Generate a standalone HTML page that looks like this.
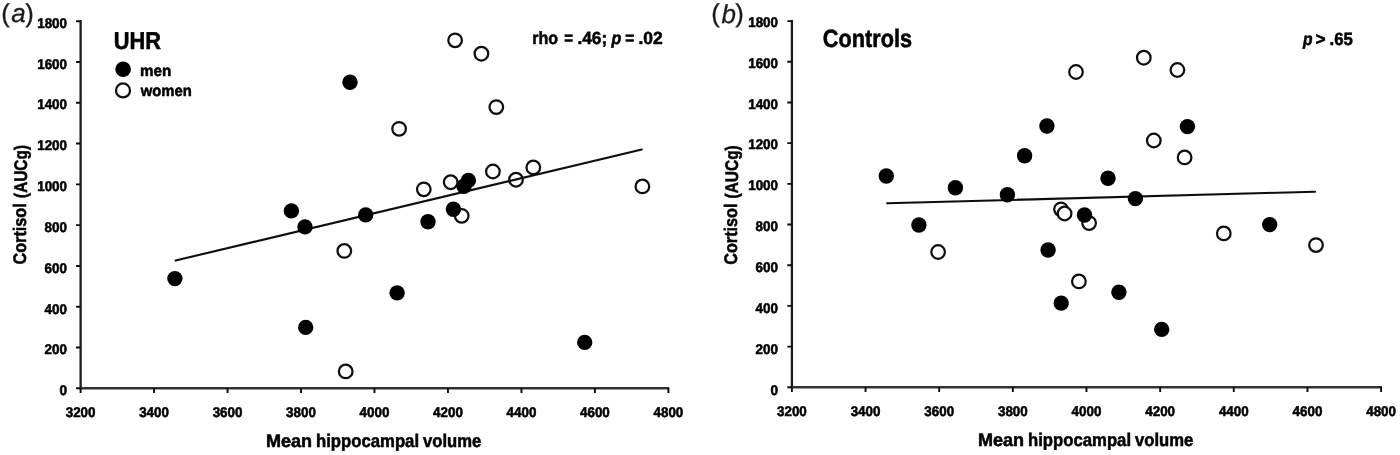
<!DOCTYPE html>
<html lang="en">
<head>
<meta charset="utf-8">
<title>Cortisol (AUCg) and mean hippocampal volume</title>
<style>
html,body{margin:0;padding:0;background:#fff;}
body{width:1400px;height:455px;overflow:hidden;}
svg{display:block;}
text{font-family:"Liberation Sans",sans-serif;fill:#000;text-rendering:geometricPrecision;}
.tk text{font-weight:bold;font-size:14px;}
.b text,text.b{stroke:#000;stroke-width:0.55;}
.ttl{font-weight:bold;}
.ax{font-weight:bold;}
.lg{font-weight:bold;}
.st{font-weight:bold;}
.pl{font-size:26px;fill:#1c1c1c;stroke:#1c1c1c;stroke-width:0.3;}
.pp{font-size:25.8px;}
.m{fill:#000;}
.w{fill:#fff;stroke:#111;stroke-width:2.25;}
.ln{stroke:#0c0c0c;stroke-width:2.1;fill:none;stroke-linecap:round;}
</style>
</head>
<body>
<svg width="1400" height="455" viewBox="0 0 1400 455">
<defs><filter id="soft" x="0" y="0" width="1400" height="455" filterUnits="userSpaceOnUse"><feGaussianBlur stdDeviation="0.45"/></filter></defs>
<rect width="1400" height="455" fill="#fff"/>

<!-- panel a -->
<text class="pl"><tspan class="pp" x="1.3" y="22.4">(</tspan><tspan x="11.2" y="22.3" font-style="italic">a</tspan><tspan class="pp" x="25.3" y="22.4">)</tspan></text>
<g filter="url(#soft)">
<path d="M80.60 20.05V389.30" fill="none" stroke="#1c1c1c" stroke-width="2.3"/>
<path d="M79.60 388.30H669.30" fill="none" stroke="#303030" stroke-width="2.5"/>
<path d="M76.00 388.30H80.60M76.00 347.51H80.60M76.00 306.72H80.60M76.00 265.93H80.60M76.00 225.14H80.60M76.00 184.36H80.60M76.00 143.57H80.60M76.00 102.78H80.60M76.00 61.99H80.60M76.00 21.20H80.60M80.60 388.30V392.90M154.07 388.30V392.90M227.55 388.30V392.90M301.02 388.30V392.90M374.50 388.30V392.90M447.98 388.30V392.90M521.45 388.30V392.90M594.92 388.30V392.90M668.40 388.30V392.90" fill="none" stroke="#0c0c0c" stroke-width="1.9"/>
<g class="tk b" text-anchor="end">
<text x="67.0" y="395.20" textLength="7.6" lengthAdjust="spacingAndGlyphs">0</text>
<text x="67.0" y="354.37" textLength="22.4" lengthAdjust="spacingAndGlyphs">200</text>
<text x="67.0" y="313.53" textLength="22.4" lengthAdjust="spacingAndGlyphs">400</text>
<text x="67.0" y="272.70" textLength="22.4" lengthAdjust="spacingAndGlyphs">600</text>
<text x="67.0" y="231.87" textLength="22.4" lengthAdjust="spacingAndGlyphs">800</text>
<text x="67.0" y="191.03" textLength="29.8" lengthAdjust="spacingAndGlyphs">1000</text>
<text x="67.0" y="150.20" textLength="29.8" lengthAdjust="spacingAndGlyphs">1200</text>
<text x="67.0" y="109.37" textLength="29.8" lengthAdjust="spacingAndGlyphs">1400</text>
<text x="67.0" y="68.53" textLength="29.8" lengthAdjust="spacingAndGlyphs">1600</text>
<text x="67.0" y="27.70" textLength="29.8" lengthAdjust="spacingAndGlyphs">1800</text>
</g>
<g class="tk b" text-anchor="middle">
<text x="80.60" y="417.1" textLength="29.8" lengthAdjust="spacingAndGlyphs">3200</text>
<text x="154.07" y="417.1" textLength="29.8" lengthAdjust="spacingAndGlyphs">3400</text>
<text x="227.55" y="417.1" textLength="29.8" lengthAdjust="spacingAndGlyphs">3600</text>
<text x="301.02" y="417.1" textLength="29.8" lengthAdjust="spacingAndGlyphs">3800</text>
<text x="374.50" y="417.1" textLength="29.8" lengthAdjust="spacingAndGlyphs">4000</text>
<text x="447.98" y="417.1" textLength="29.8" lengthAdjust="spacingAndGlyphs">4200</text>
<text x="521.45" y="417.1" textLength="29.8" lengthAdjust="spacingAndGlyphs">4400</text>
<text x="594.92" y="417.1" textLength="29.8" lengthAdjust="spacingAndGlyphs">4600</text>
<text x="668.40" y="417.1" textLength="29.8" lengthAdjust="spacingAndGlyphs">4800</text>
</g>
<text class="ax b" font-size="18.2" transform="rotate(-90)"><tspan x="-264.5" y="26.2" textLength="61.28" lengthAdjust="spacingAndGlyphs">Cortisol</tspan> <tspan x="-198.0" y="27.0" textLength="53.02" lengthAdjust="spacingAndGlyphs">(AUCg)</tspan></text>
<text class="ax b" font-size="18.2" y="446.95"><tspan x="266.0" textLength="46.07" lengthAdjust="spacingAndGlyphs">Mean</tspan> <tspan x="316.0" textLength="103.04" lengthAdjust="spacingAndGlyphs">hippocampal</tspan> <tspan x="423.0" textLength="58.25" lengthAdjust="spacingAndGlyphs">volume</tspan></text>
<text class="ttl b" font-size="24.2" x="113.75" y="48.5" textLength="47.29" lengthAdjust="spacingAndGlyphs">UHR</text>
<circle class="m" cx="123.1" cy="69.2" r="7.8"/>
<circle class="w" cx="123.0" cy="90.4" r="7.0"/>
<text class="lg b" font-size="15.6" x="140.0" y="75.6" textLength="31.3" lengthAdjust="spacingAndGlyphs">men</text>
<text class="lg b" font-size="15.6" x="140.75" y="95.7" textLength="51.0" lengthAdjust="spacingAndGlyphs">women</text>
<text class="st b" font-size="17.6" y="44.3"><tspan x="532.25" textLength="25.8" lengthAdjust="spacingAndGlyphs">rho</tspan> <tspan x="564.25" textLength="8.81" lengthAdjust="spacingAndGlyphs">=</tspan> <tspan x="577.5" textLength="29.66" lengthAdjust="spacingAndGlyphs">.46;</tspan> <tspan x="611.5" font-style="italic" textLength="9.76" lengthAdjust="spacingAndGlyphs">p</tspan> <tspan x="625.25" textLength="9.05" lengthAdjust="spacingAndGlyphs">=</tspan> <tspan x="638.5" textLength="24.32" lengthAdjust="spacingAndGlyphs">.02</tspan></text>
<circle class="w" cx="344.3" cy="250.9" r="6.8"/>
<circle class="w" cx="345.7" cy="371.4" r="6.8"/>
<circle class="w" cx="399.1" cy="128.8" r="6.8"/>
<circle class="w" cx="423.8" cy="189.3" r="6.8"/>
<circle class="w" cx="450.7" cy="182.2" r="6.8"/>
<circle class="w" cx="455.1" cy="40.3" r="6.8"/>
<circle class="w" cx="461.7" cy="215.8" r="6.8"/>
<circle class="w" cx="481.4" cy="53.7" r="6.8"/>
<circle class="w" cx="492.9" cy="171.5" r="6.8"/>
<circle class="w" cx="496.3" cy="107.1" r="6.8"/>
<circle class="w" cx="516.0" cy="179.7" r="6.8"/>
<circle class="w" cx="533.3" cy="167.4" r="6.8"/>
<circle class="w" cx="642.4" cy="186.4" r="6.8"/>
<path class="ln" d="M175.6 260.5L641.8 149.5"/>
<circle class="m" cx="174.9" cy="278.6" r="7.7"/>
<circle class="m" cx="291.4" cy="210.9" r="7.7"/>
<circle class="m" cx="305.0" cy="226.9" r="7.7"/>
<circle class="m" cx="305.7" cy="327.4" r="7.7"/>
<circle class="m" cx="350.0" cy="82.3" r="7.7"/>
<circle class="m" cx="365.7" cy="214.9" r="7.7"/>
<circle class="m" cx="397.1" cy="292.9" r="7.7"/>
<circle class="m" cx="428.0" cy="221.7" r="7.7"/>
<circle class="m" cx="453.4" cy="209.3" r="7.7"/>
<circle class="m" cx="464.0" cy="186.2" r="7.7"/>
<circle class="m" cx="468.4" cy="180.4" r="7.7"/>
<circle class="m" cx="584.7" cy="342.4" r="7.7"/>

<!-- panel b -->
</g>
<text class="pl"><tspan class="pp" x="711.3" y="22.4">(</tspan><tspan x="721.4" y="22.5" font-style="italic">b</tspan><tspan class="pp" x="735.3" y="22.4">)</tspan></text>
<g filter="url(#soft)">
<path d="M791.90 19.95V388.30" fill="none" stroke="#1c1c1c" stroke-width="2.3"/>
<path d="M790.90 387.30H1382.00" fill="none" stroke="#303030" stroke-width="2.5"/>
<path d="M787.30 387.30H791.90M787.30 346.61H791.90M787.30 305.92H791.90M787.30 265.23H791.90M787.30 224.54H791.90M787.30 183.86H791.90M787.30 143.17H791.90M787.30 102.48H791.90M787.30 61.79H791.90M787.30 21.10H791.90M791.90 387.30V391.90M865.55 387.30V391.90M939.20 387.30V391.90M1012.85 387.30V391.90M1086.50 387.30V391.90M1160.15 387.30V391.90M1233.80 387.30V391.90M1307.45 387.30V391.90M1381.10 387.30V391.90" fill="none" stroke="#0c0c0c" stroke-width="1.9"/>
<g class="tk b" text-anchor="end">
<text x="778.0" y="394.80" textLength="7.6" lengthAdjust="spacingAndGlyphs">0</text>
<text x="778.0" y="353.90" textLength="22.4" lengthAdjust="spacingAndGlyphs">200</text>
<text x="778.0" y="313.00" textLength="22.4" lengthAdjust="spacingAndGlyphs">400</text>
<text x="778.0" y="272.10" textLength="22.4" lengthAdjust="spacingAndGlyphs">600</text>
<text x="778.0" y="231.20" textLength="22.4" lengthAdjust="spacingAndGlyphs">800</text>
<text x="778.0" y="190.30" textLength="29.8" lengthAdjust="spacingAndGlyphs">1000</text>
<text x="778.0" y="149.40" textLength="29.8" lengthAdjust="spacingAndGlyphs">1200</text>
<text x="778.0" y="108.50" textLength="29.8" lengthAdjust="spacingAndGlyphs">1400</text>
<text x="778.0" y="67.60" textLength="29.8" lengthAdjust="spacingAndGlyphs">1600</text>
<text x="778.0" y="26.70" textLength="29.8" lengthAdjust="spacingAndGlyphs">1800</text>
</g>
<g class="tk b" text-anchor="middle">
<text x="791.90" y="416.2" textLength="29.8" lengthAdjust="spacingAndGlyphs">3200</text>
<text x="865.55" y="416.2" textLength="29.8" lengthAdjust="spacingAndGlyphs">3400</text>
<text x="939.20" y="416.2" textLength="29.8" lengthAdjust="spacingAndGlyphs">3600</text>
<text x="1012.85" y="416.2" textLength="29.8" lengthAdjust="spacingAndGlyphs">3800</text>
<text x="1086.50" y="416.2" textLength="29.8" lengthAdjust="spacingAndGlyphs">4000</text>
<text x="1160.15" y="416.2" textLength="29.8" lengthAdjust="spacingAndGlyphs">4200</text>
<text x="1233.80" y="416.2" textLength="29.8" lengthAdjust="spacingAndGlyphs">4400</text>
<text x="1307.45" y="416.2" textLength="29.8" lengthAdjust="spacingAndGlyphs">4600</text>
<text x="1381.10" y="416.2" textLength="29.8" lengthAdjust="spacingAndGlyphs">4800</text>
</g>
<text class="ax b" font-size="18.2" transform="rotate(-90)"><tspan x="-264.75" y="736.6" textLength="61.28" lengthAdjust="spacingAndGlyphs">Cortisol</tspan> <tspan x="-198.5" y="737.6" textLength="53.27" lengthAdjust="spacingAndGlyphs">(AUCg)</tspan></text>
<text class="ax b" font-size="18.2" y="445.95"><tspan x="978.0" textLength="46.07" lengthAdjust="spacingAndGlyphs">Mean</tspan> <tspan x="1028.0" textLength="103.04" lengthAdjust="spacingAndGlyphs">hippocampal</tspan> <tspan x="1135.0" textLength="58.25" lengthAdjust="spacingAndGlyphs">volume</tspan></text>
<text class="ttl b" font-size="25" x="822.75" y="47.3" textLength="89.27" lengthAdjust="spacingAndGlyphs">Controls</text>
<text class="st b" font-size="17.7" y="45.4"><tspan x="1303.0" font-style="italic" textLength="9.52" lengthAdjust="spacingAndGlyphs">p</tspan> <tspan x="1315.5" textLength="10.1" lengthAdjust="spacingAndGlyphs">&gt;</tspan> <tspan x="1329.5" textLength="23.3" lengthAdjust="spacingAndGlyphs">.65</tspan></text>
<circle class="w" cx="938.1" cy="252" r="6.8"/>
<circle class="w" cx="1061.0" cy="209.3" r="6.8"/>
<circle class="w" cx="1064.6" cy="213.5" r="6.8"/>
<circle class="w" cx="1076.0" cy="72" r="6.8"/>
<circle class="w" cx="1078.9" cy="281.4" r="6.8"/>
<circle class="w" cx="1089.1" cy="223.1" r="6.8"/>
<circle class="w" cx="1143.8" cy="57.7" r="6.8"/>
<circle class="w" cx="1153.8" cy="140.5" r="6.8"/>
<circle class="w" cx="1177.4" cy="70" r="6.8"/>
<circle class="w" cx="1184.6" cy="157.4" r="6.8"/>
<circle class="w" cx="1223.8" cy="233.4" r="6.8"/>
<circle class="w" cx="1316.0" cy="245.1" r="6.8"/>
<path class="ln" d="M887.1 203.3L1315.0 191.7"/>
<circle class="m" cx="886.3" cy="176" r="7.7"/>
<circle class="m" cx="918.9" cy="225" r="7.7"/>
<circle class="m" cx="955.4" cy="187.7" r="7.7"/>
<circle class="m" cx="1007.4" cy="194.8" r="7.7"/>
<circle class="m" cx="1024.6" cy="155.8" r="7.7"/>
<circle class="m" cx="1046.9" cy="126" r="7.7"/>
<circle class="m" cx="1048.1" cy="250" r="7.7"/>
<circle class="m" cx="1061.2" cy="303.1" r="7.7"/>
<circle class="m" cx="1084.5" cy="215" r="7.7"/>
<circle class="m" cx="1108.0" cy="178.3" r="7.7"/>
<circle class="m" cx="1118.9" cy="292.3" r="7.7"/>
<circle class="m" cx="1135.4" cy="198.6" r="7.7"/>
<circle class="m" cx="1161.7" cy="329.4" r="7.7"/>
<circle class="m" cx="1187.4" cy="126.6" r="7.7"/>
<circle class="m" cx="1269.7" cy="224.6" r="7.7"/>
</g>
</svg>
</body>
</html>
